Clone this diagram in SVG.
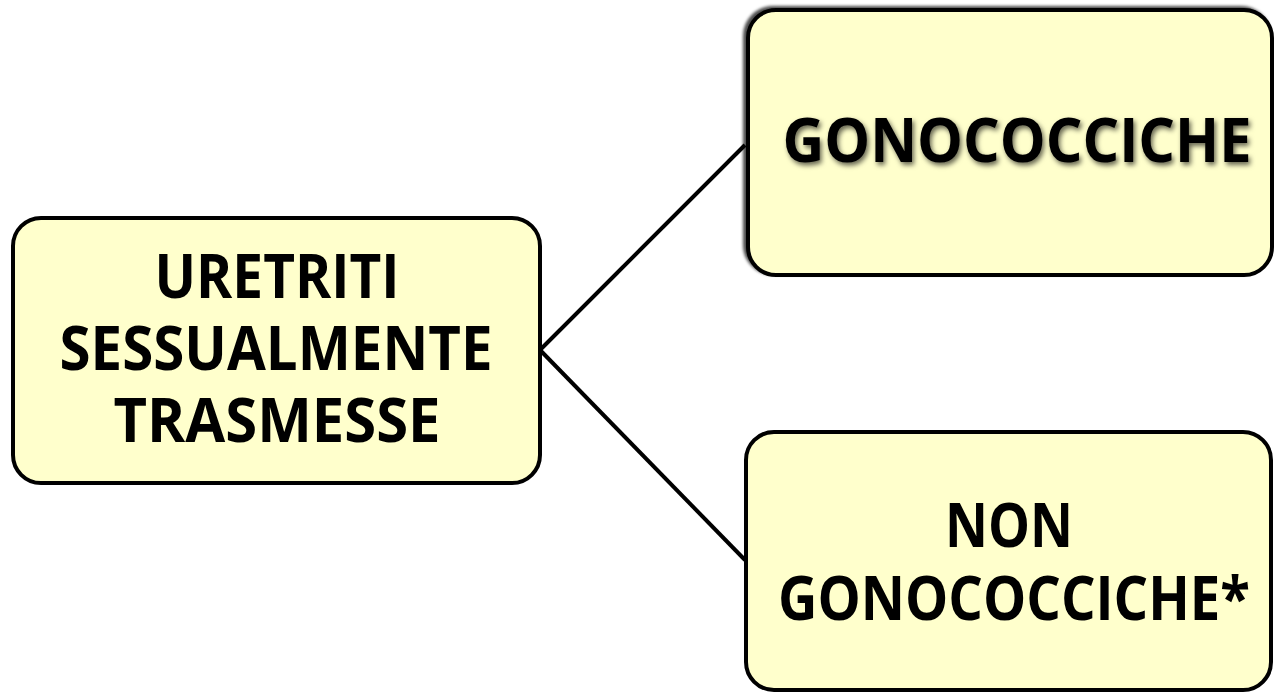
<svg xmlns="http://www.w3.org/2000/svg" width="1274" height="693" viewBox="0 0 1274 693">
<style>
.box{fill:#ffffcc;stroke:#000;stroke-width:4}
.t{font-family:"Open Sans","Liberation Sans",sans-serif;font-weight:bold;font-size:60px;fill:#000;text-anchor:middle}
.ln{stroke:#000;stroke-width:4;fill:none}
</style>
<defs>
<filter id="sh" x="-10%" y="-30%" width="120%" height="160%">
<feGaussianBlur in="SourceAlpha" stdDeviation="2.5"/>
<feOffset dx="2" dy="3" result="b"/>
<feFlood flood-color="#000" flood-opacity="0.6"/>
<feComposite in2="b" operator="in"/>
<feMerge><feMergeNode/><feMergeNode in="SourceGraphic"/></feMerge>
</filter>
<filter id="bsh" x="-5%" y="-5%" width="110%" height="110%">
<feGaussianBlur in="SourceAlpha" stdDeviation="1.5"/>
<feOffset dx="-3" dy="-2" result="b"/>
<feFlood flood-color="#000" flood-opacity="0.7"/>
<feComposite in2="b" operator="in"/>
<feMerge><feMergeNode/><feMergeNode in="SourceGraphic"/></feMerge>
</filter>
</defs>
<rect width="1274" height="693" fill="#fff"/>
<g id="connectors">
<line class="ln" x1="540" y1="350" x2="745" y2="145"/>
<line class="ln" x1="540" y1="350" x2="745" y2="560"/>
</g>
<g id="n1">
<rect class="box" x="13" y="218" width="527" height="265" rx="28"/>
<text class="t" x="277" y="298" textLength="245" lengthAdjust="spacingAndGlyphs">URETRITI</text>
<text class="t" x="276" y="370" textLength="433" lengthAdjust="spacingAndGlyphs">SESSUALMENTE</text>
<text class="t" x="277" y="442" textLength="327" lengthAdjust="spacingAndGlyphs">TRASMESSE</text>
</g>
<g id="n2">
<rect class="box" x="748" y="10" width="524" height="265" rx="28" filter="url(#bsh)"/>
<text class="t" x="1017" y="162" textLength="469" lengthAdjust="spacingAndGlyphs" filter="url(#sh)">GONOCOCCICHE</text>
</g>
<g id="n3">
<rect class="box" x="746" y="432" width="525" height="258" rx="28"/>
<text class="t" x="1009" y="547" textLength="128" lengthAdjust="spacingAndGlyphs">NON</text>
<text class="t" x="1014" y="620" textLength="472" lengthAdjust="spacingAndGlyphs">GONOCOCCICHE*</text>
</g>
</svg>
